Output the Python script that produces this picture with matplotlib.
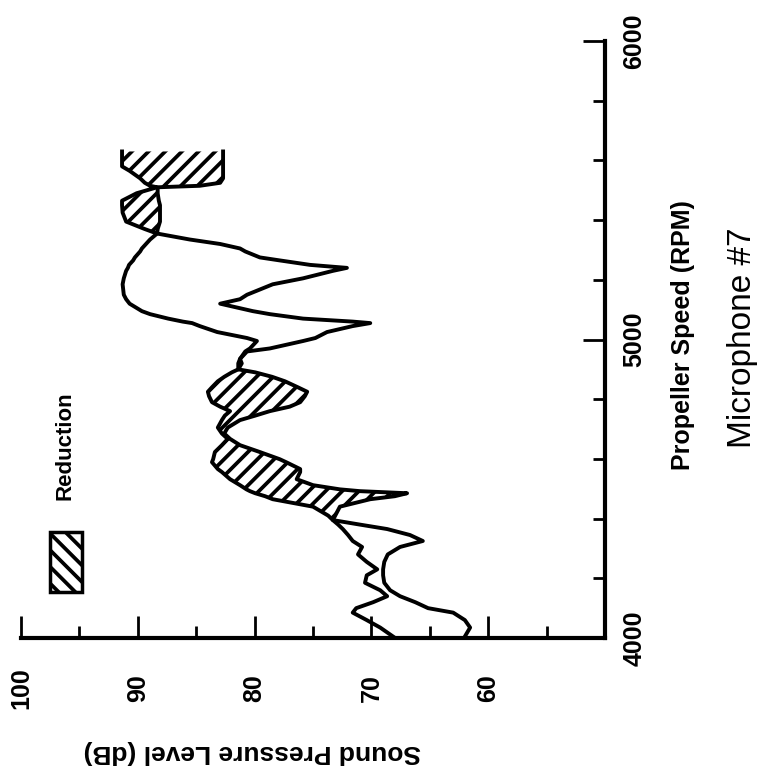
import numpy as np
import matplotlib.pyplot as plt
from matplotlib.patches import Rectangle

plt.rcParams['font.family'] = ['Liberation Sans', 'DejaVu Sans']
plt.rcParams['hatch.linewidth'] = 2.7
plt.rcParams['hatch.color'] = 'black'

# Propeller speed (RPM) and sound pressure level (dB), two runs
rpm = np.array([4005, 4035, 4060, 4085, 4100, 4120, 4140, 4160, 4185, 4210,
                4230, 4255, 4280, 4305, 4325, 4345, 4365, 4380, 4395, 4410,
                4440, 4465, 4475, 4485, 4492, 4498, 4512, 4532, 4556, 4566,
                4589, 4599, 4623, 4646, 4667, 4685, 4705, 4730, 4745, 4760,
                4775, 4790, 4810, 4825, 4840, 4860, 4875, 4890, 4900, 4920,
                4935, 4960, 4970, 4995, 5005, 5025, 5045, 5055, 5060, 5070,
                5085, 5095, 5120, 5135, 5150, 5185, 5205, 5230, 5240, 5250,
                5265, 5275, 5295, 5305, 5320, 5335, 5355, 5370, 5395, 5425,
                5450, 5465, 5490, 5510, 5515, 5525, 5540, 5565, 5580, 5610,
                5630])
baseline = np.array([62.0, 61.55, 62.0, 63.0, 65.15, 66.25, 67.55, 68.4, 68.9, 69.0,
                     69.0, 68.9, 68.6, 67.55, 65.6, 66.7, 68.65, 71.0, 73.3, 73.7,
                     75.0, 78.45, 79.1, 79.95, 80.4, 80.7, 81.25, 82.1, 82.8, 83.15,
                     83.65, 83.55, 83.4, 82.8, 82.3, 82.8, 83.15, 82.8, 82.55, 82.1,
                     82.95, 83.65, 83.9, 84.0, 83.65, 83.15, 82.6, 81.95, 81.4, 81.1,
                     81.25, 80.65, 78.7, 75.85, 74.8, 73.8, 71.6, 70.1, 71.6, 75.85,
                     78.7, 80.15, 82.95, 81.25, 80.65, 78.45, 75.85, 73.3, 72.1, 75.25,
                     77.85, 79.55, 80.8, 81.25, 82.95, 85.55, 88.35, 89.4, 91.0, 91.3,
                     91.35, 91.35, 90.1, 88.35, 88.95, 89.4, 89.8, 90.7, 91.35, 91.35,
                     91.35])
treated = np.array([68.15, 69.25, 70.4, 71.6, 71.3, 69.85, 68.65, 69.25, 70.55, 70.4,
                    69.5, 70.4, 71.15, 70.8, 71.6, 72.0, 72.45, 72.85, 73.3, 73.1,
                    72.7, 70.1, 68.0, 66.95, 71.0, 72.7, 75.0, 76.4, 76.1, 76.1,
                    77.3, 77.85, 79.55, 81.25, 82.1, 82.6, 82.3, 81.25, 79.95, 78.7,
                    77.0, 76.1, 75.7, 75.5, 76.3, 77.4, 78.5, 79.95, 81.4, 81.4,
                    81.25, 80.8, 80.4, 79.8, 80.65, 83.2, 84.7, 85.35, 86.15, 87.4,
                    88.95, 89.65, 90.7, 91.0, 91.2, 91.3, 91.2, 91.0, 90.85, 90.75,
                    90.4, 90.25, 89.8, 89.65, 89.3, 88.95, 88.35, 88.3, 88.1, 88.1,
                    88.1, 88.2, 88.3, 88.3, 84.7, 82.95, 82.7, 82.7, 82.7, 82.7,
                    82.7])

db_ticks = [100, 90, 80, 70, 60]
db_minor = [95, 85, 75, 65, 55]
rpm_ticks = [4000, 5000, 6000]
rpm_minor = [4200, 4400, 4600, 4800, 5200, 5400, 5600, 5800]

fig = plt.figure(figsize=(7.58, 7.71), dpi=100)
ax = fig.add_axes([0.0277, 0.1725, 0.7705, 0.7743])

# the page is turned: dB runs right-to-left, RPM bottom-to-top
ax.fill_betweenx(rpm, baseline, treated, where=baseline > treated, interpolate=True,
                 facecolor='white', edgecolor='black', hatch='//', linewidth=0)
ax.plot(baseline, rpm, color='black', lw=2.8, solid_joinstyle='round')
ax.plot(treated, rpm, color='black', lw=2.8, solid_joinstyle='round')

ax.set_xlim(100, 50)
ax.set_ylim(4000, 6000)
ax.spines['top'].set_visible(False)
ax.spines['left'].set_visible(False)
ax.spines['bottom'].set_linewidth(3)
ax.spines['right'].set_linewidth(3)
ax.yaxis.tick_right()

ax.set_xticks(db_ticks)
ax.set_xticks(db_minor, minor=True)
ax.set_xticklabels([str(v) for v in db_ticks], rotation=90, fontsize=18,
                   fontweight='bold', va='center')
ax.set_yticks(rpm_ticks)
ax.set_yticks(rpm_minor, minor=True)
ax.set_yticklabels([str(v) for v in rpm_ticks], rotation=90, fontsize=18,
                   fontweight='bold', ha='center', va='center')

ax.tick_params(axis='both', which='major', direction='in', length=16, width=2)
ax.tick_params(axis='both', which='minor', direction='in', length=9, width=2)
ax.tick_params(axis='x', which='major', pad=36)
ax.tick_params(axis='y', which='major', pad=21)

fig.text(0.901, 0.5655, 'Propeller Speed (RPM)', rotation=90, fontsize=18,
         fontweight='bold', ha='center', va='center')
fig.text(0.979, 0.5616, 'Microphone #7', rotation=90, fontsize=24,
         ha='center', va='center')
fig.text(0.3325, 0.0246, 'Sound Pressure Level (dB)', rotation=180, fontsize=19,
         fontweight='bold', ha='center', va='center')

# legend swatch
fig.add_artist(Rectangle((0.066, 0.2322), 0.0422, 0.0778, transform=fig.transFigure,
                         facecolor='white', edgecolor='black', lw=2.5, hatch='\\\\'))
fig.text(0.0858, 0.4215, 'Reduction', rotation=90, fontsize=16, fontweight='bold',
         ha='center', va='center')

fig.savefig('out.png', dpi=100)
